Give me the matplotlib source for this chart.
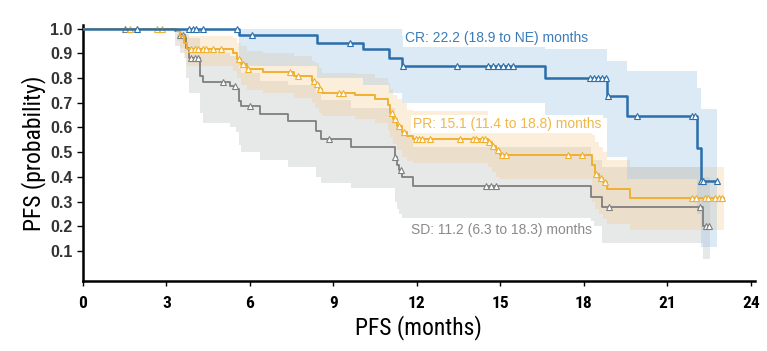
import numpy as np
import matplotlib
matplotlib.use('Agg')
import matplotlib.pyplot as plt
from matplotlib import font_manager

# ---- data (step times, survival, CI) ----
cr_t = [0, 5.6, 8.4, 10.05, 11.0, 11.47, 16.6, 18.85, 19.55, 22.05, 22.2]
cr_s = [1.0, 0.975, 0.943, 0.916, 0.882, 0.849, 0.802, 0.728, 0.645, 0.515, 0.385]
cr_lo = [1.0, 0.85, 0.80, 0.77, 0.74, 0.70, 0.64, 0.48, 0.39, 0.25, 0.115]
cr_hi = [1.0, 1.0, 1.0, 1.0, 1.0, 0.97, 0.916, 0.87, 0.83, 0.76, 0.675]
cr_end = 22.8
cr_cens = [1.93, 3.8, 3.95, 4.08, 4.3, 5.55, 6.06, 9.59, 11.5, 13.43, 14.56, 14.74,
           14.92, 15.1, 15.28, 15.46, 18.22, 18.36, 18.52, 18.67, 18.8, 18.87,
           19.9, 21.9, 22.0, 22.22, 22.28, 22.77]

pr_t = [0, 3.37, 3.5, 3.62, 3.75, 5.4, 5.55, 5.7, 5.9, 6.48, 7.6, 8.22, 8.35, 8.5,
        8.6, 9.77, 10.5, 10.97, 11.05, 11.15, 11.3, 11.45, 11.65, 11.85, 14.55,
        14.7, 14.85, 15.0, 18.3, 18.4, 18.55, 18.7, 18.85, 19.65]
pr_s = [1.0, 0.99, 0.97, 0.94, 0.916, 0.90, 0.875, 0.855, 0.836, 0.826, 0.809, 0.79,
        0.775, 0.755, 0.741, 0.732, 0.715, 0.69, 0.66, 0.635, 0.607, 0.58, 0.566,
        0.554, 0.54, 0.525, 0.508, 0.49, 0.45, 0.413, 0.395, 0.379, 0.35, 0.314]
pr_lo = [1.0, 0.95, 0.92, 0.88, 0.85, 0.83, 0.80, 0.77, 0.75, 0.74, 0.72, 0.70,
         0.68, 0.66, 0.645, 0.635, 0.62, 0.59, 0.56, 0.535, 0.51, 0.48, 0.465,
         0.455, 0.44, 0.42, 0.40, 0.39, 0.30, 0.27, 0.25, 0.23, 0.21, 0.185]
pr_hi = [1.0, 1.0, 1.0, 0.98, 0.97, 0.96, 0.94, 0.93, 0.91, 0.90, 0.89, 0.87,
         0.86, 0.84, 0.82, 0.815, 0.80, 0.78, 0.755, 0.73, 0.715, 0.70, 0.67,
         0.665, 0.65, 0.635, 0.62, 0.595, 0.57, 0.54, 0.52, 0.50, 0.47, 0.44]
pr_end = 23.05
pr_cens = [1.7, 2.65, 2.85, 3.9, 4.02, 4.14, 4.32, 4.44, 4.68, 4.98, 5.62, 5.75,
           5.95, 7.44, 7.74, 8.3, 8.4, 8.52, 9.2, 9.35, 11.1, 11.2, 11.35, 11.55,
           11.96, 12.08, 12.17, 12.47, 13.55, 14.02, 14.14, 14.33, 14.45, 14.6,
           14.75, 14.9, 15.05, 15.2, 17.44, 17.92, 18.45, 18.6, 18.75, 21.9, 22.03,
           22.35, 22.47, 22.71, 22.86, 22.98]

sd_t = [0, 3.3, 3.48, 3.66, 3.72, 3.8, 4.2, 4.32, 5.28, 5.52, 5.62, 5.7, 6.36, 7.38,
        8.37, 8.57, 9.65, 11.2, 11.27, 11.35, 11.45, 11.87, 18.24, 18.64, 22.29]
sd_s = [1.0, 0.99, 0.975, 0.96, 0.92, 0.88, 0.809, 0.785, 0.768, 0.755, 0.708, 0.685,
        0.654, 0.627, 0.587, 0.554, 0.52, 0.48, 0.45, 0.427, 0.40, 0.362, 0.319,
        0.277, 0.2]
sd_lo = [1.0, 0.93, 0.90, 0.88, 0.80, 0.74, 0.66, 0.62, 0.60, 0.58, 0.53, 0.50,
         0.47, 0.44, 0.40, 0.376, 0.354, 0.30, 0.27, 0.25, 0.235, 0.233, 0.20,
         0.133, 0.07]
sd_hi = [1.0, 1.0, 1.0, 1.0, 0.98, 0.96, 0.92, 0.90, 0.89, 0.88, 0.84, 0.82, 0.79,
         0.77, 0.74, 0.71, 0.68, 0.64, 0.62, 0.60, 0.57, 0.52, 0.47, 0.44, 0.40]
sd_end = 22.55
sd_cens = [1.5, 3.5, 3.6, 3.9, 4.02, 4.14, 5.03, 5.45, 6.0, 8.85, 11.2, 11.42,
           14.5, 14.68, 14.86, 18.9, 22.17, 22.4, 22.5]

labels = ['CR: 22.2 (18.9 to NE) months',
          'PR: 15.1 (11.4 to 18.8) months',
          'SD: 11.2 (6.3 to 18.3) months']

xticks = [0, 3, 6, 9, 12, 15, 18, 21, 24]
yticks = [0.1, 0.2, 0.3, 0.4, 0.5, 0.6, 0.7, 0.8, 0.9, 1.0]

# pick a narrow face for the axis texts if one is around
fonts = font_manager.fontManager.ttflist
names = {f.name for f in fonts}
narrow_kw = None
for cand in ['Liberation Sans Narrow', 'Roboto Condensed', 'Open Sans Condensed',
             'DejaVu Sans Condensed', 'Noto Sans Condensed']:
    if cand in names:
        narrow_kw = dict(family=cand)
        break
if narrow_kw is None:
    cond = [f for f in fonts if f.stretch in ('condensed', 'semi-condensed', 'extra-condensed')]
    if cond:
        narrow_kw = dict(family=cond[0].name, stretch=cond[0].stretch)
    else:
        narrow_kw = dict(family='Roboto')

fig = plt.figure(figsize=(7.67, 3.51), dpi=100)
ax = fig.add_axes([0.108, 0.1994, 0.876, 0.729])


def draw_group(t, s, lo, hi, t_end, cens, line_c, band_c, band_a, lw, z):
    x = np.append(t, t_end)
    ax.fill_between(x, np.append(lo, lo[-1]), np.append(hi, hi[-1]), step='post',
                    color=band_c, alpha=band_a, lw=0, zorder=z)
    ax.step(x, np.append(s, s[-1]), where='post', color=line_c, lw=lw, zorder=z + 10)
    idx = np.searchsorted(t, cens, side='right') - 1
    ax.plot(cens, np.array(s)[idx], ls='none', marker='^', ms=4.2, mfc='white',
            mec=line_c, mew=0.8, zorder=z + 11)


draw_group(sd_t, sd_s, sd_lo, sd_hi, sd_end, sd_cens, '#7f7f7f', '#b0b5b5', 0.3, 1.3, 1)
draw_group(pr_t, pr_s, pr_lo, pr_hi, pr_end, pr_cens, '#f0b030', '#f5c98a', 0.3, 1.4, 2)
draw_group(cr_t, cr_s, cr_lo, cr_hi, cr_end, cr_cens, '#2a6eab', '#9dc3e6', 0.35, 1.8, 3)

box = dict(boxstyle='square,pad=0.15', fc='white', ec='none')
ax.text(11.57, 0.962, labels[0], color='#3b7cb8', fontsize=10, family='Liberation Sans',
        va='center', bbox=box, zorder=30)
ax.text(11.86, 0.615, labels[1], color='#f0b84a', fontsize=10, family='Liberation Sans',
        va='center', bbox=box, zorder=30)
ax.text(11.79, 0.184, labels[2], color='#8a8a8a', fontsize=10, family='Liberation Sans',
        va='center', bbox=box, zorder=30)

ax.set_xlim(0, 24.14)
ax.set_ylim(-0.021, 1.014)
ax.set_xticks(xticks)
ax.set_yticks(yticks)
ax.set_xticklabels([str(v) for v in xticks], fontsize=12.5, fontweight='bold', **narrow_kw)
ax.set_yticklabels(['%.1f' % v for v in yticks], fontsize=11.5, fontweight='bold',
                   family='Liberation Sans', color='#333333')
ax.tick_params(axis='y', length=4.5, width=1, pad=3)
ax.tick_params(axis='x', length=3.5, width=1, pad=7)
ax.spines['right'].set_visible(False)
ax.spines['top'].set_visible(False)
ax.spines['left'].set_linewidth(1.8)
ax.spines['bottom'].set_linewidth(1.8)
ax.set_xlabel('PFS (months)', fontsize=17, labelpad=3, **narrow_kw)
ax.set_ylabel('PFS (probability)', fontsize=17, labelpad=3, **narrow_kw)

fig.savefig('out.png', dpi=100)
